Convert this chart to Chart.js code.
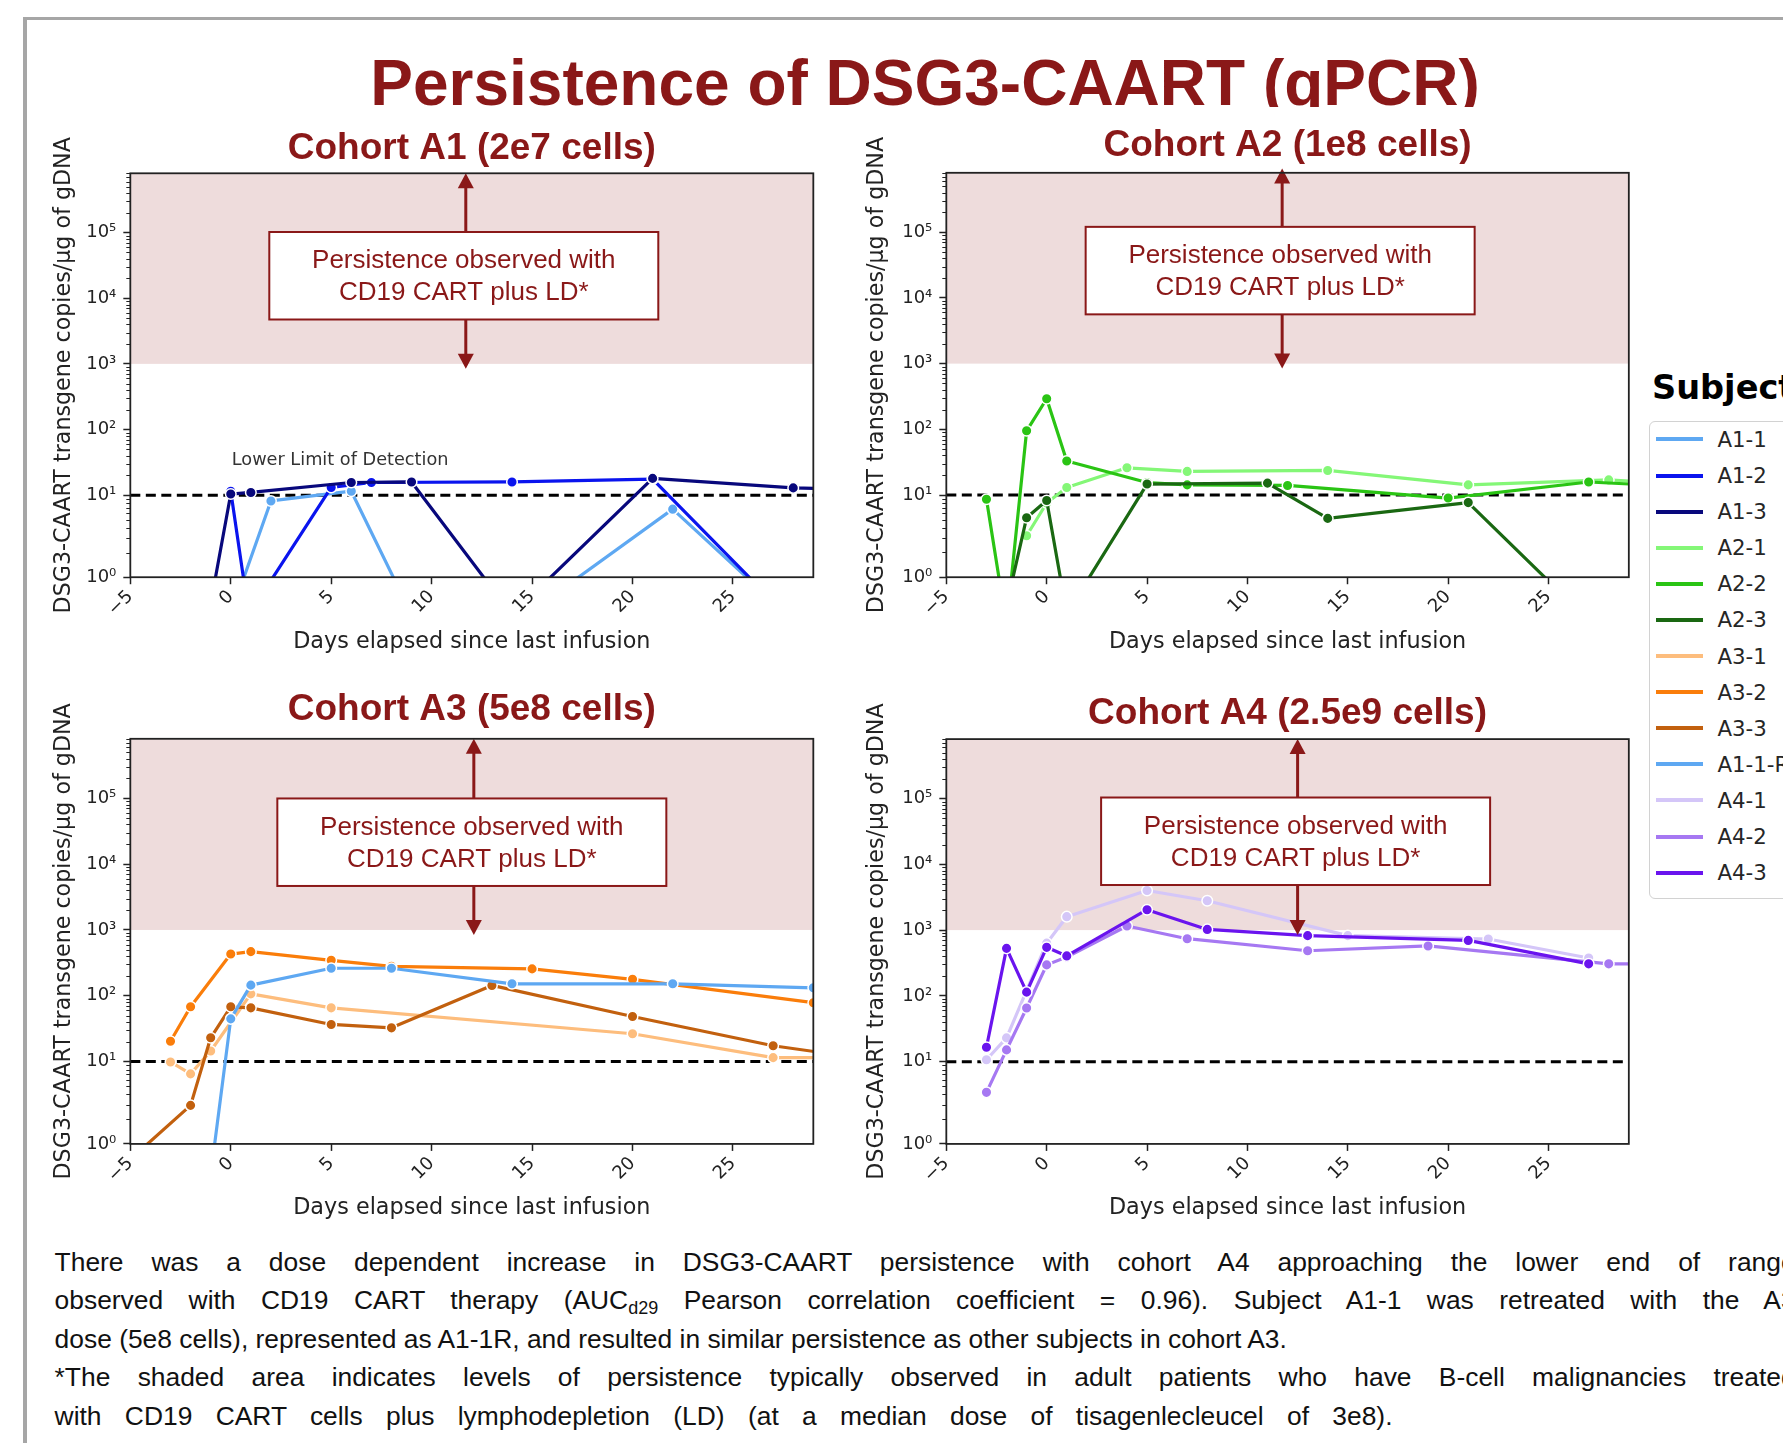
<!DOCTYPE html>
<html>
<head>
<meta charset="utf-8">
<title>Persistence of DSG3-CAART (qPCR)</title>
<script src="https://cdn.jsdelivr.net/npm/chart.js@4.4.1/dist/chart.umd.min.js"></script>
<style>
  html, body { margin: 0; padding: 0; background: #fff; }
  body { width: 1783px; height: 1443px; position: relative; overflow: hidden; font-family: "Liberation Sans", Arial, sans-serif; }
  #frame { position: absolute; left: 23px; top: 17px; width: 1900px; height: 1600px; border-left: 4px solid #a6a6a6; border-top: 3.5px solid #a6a6a6; }
  #title { position: absolute; left: 325px; width: 1200px; top: 48.1px; height: 58.9px; overflow: hidden; text-align: center;
           font-weight: bold; font-size: 64px; line-height: 71.5px; color: #8a1818; white-space: nowrap; }
  canvas { position: absolute; }
  #lg-title { position: absolute; left: 1652px; top: 367.8px; font: bold 33.6px/39.1px "DejaVu Sans", sans-serif; color: #000; white-space: nowrap; }
  #lg-box { position: absolute; left: 1649px; top: 420.7px; width: 300px; height: 476px; border: 1.5px solid #d2d2d2; border-radius: 6px; background: #fff; }
  .lg-row { position: absolute; left: 0; height: 0; }
  .lg-line { position: absolute; left: 5.5px; top: -2px; width: 47.3px; height: 4px; }
  .lg-text { position: absolute; left: 67.5px; top: -13.5px; font: 21.3px/27px "DejaVu Sans", sans-serif; color: #262626; white-space: nowrap; }
  #notes { position: absolute; left: 54.6px; top: 1243px; font-size: 26.4px; line-height: 38.4px; color: #111; white-space: nowrap; }
  #notes .just { width: 1741px; text-align: justify; text-align-last: justify; white-space: normal; }
  #notes .wide { word-spacing: 16px; }
  #notes sub { font-size: 18px; vertical-align: -5px; line-height: 0; }
</style>
</head>
<body>
<div id="frame"></div>
<div id="title">Persistence of DSG3-CAART (qPCR)</div>
<canvas id="cA1"></canvas>
<canvas id="cA2"></canvas>
<canvas id="cA3"></canvas>
<canvas id="cA4"></canvas>
<div id="lg-title">Subject</div>
<div id="lg-box"></div>
<div id="notes">
  <div class="just">There was a dose dependent increase in DSG3-CAART persistence with cohort A4 approaching the lower end of range</div>
  <div class="just">observed with CD19 CART therapy (AUC<sub>d29</sub> Pearson correlation coefficient = 0.96). Subject A1-1 was retreated with the A3</div>
  <div>dose (5e8 cells), represented as A1-1R, and resulted in similar persistence as other subjects in cohort A3.</div>
  <div class="just">*The shaded area indicates levels of persistence typically observed in adult patients who have B-cell malignancies treated</div>
  <div class="wide">with CD19 CART cells plus lymphodepletion (LD) (at a median dose of tisagenlecleucel of 3e8).</div>
</div>
<script>
// ---------- data ----------
const xTicks = [-5, 0, 5, 10, 15, 20, 25];
const xTickLabels = ['\u22125', '0', '5', '10', '15', '20', '25'];
const yTicks = [1, 10, 100, 1000, 10000, 100000];
const yTickLabels = ['10\u2070', '10\u00b9', '10\u00b2', '10\u00b3', '10\u2074', '10\u2075'];
const lodCopies = 10;        // lower limit of detection
const cd19RangeLow = 1000;   // bottom of shaded CD19 CART range

const cohortTitles = ['Cohort A1 (2e7 cells)', 'Cohort A2 (1e8 cells)', 'Cohort A3 (5e8 cells)', 'Cohort A4 (2.5e9 cells)'];
const subjects = ['A1-1', 'A1-2', 'A1-3', 'A2-1', 'A2-2', 'A2-3', 'A3-1', 'A3-2', 'A3-3', 'A1-1-R', 'A4-1', 'A4-2', 'A4-3'];
const cohortSubjects = [['A1-1', 'A1-2', 'A1-3'], ['A2-1', 'A2-2', 'A2-3'], ['A3-1', 'A3-2', 'A3-3', 'A1-1-R'], ['A4-1', 'A4-2', 'A4-3']];

// days since last infusion, copies/ug gDNA (values under 1 are below the axis)
const a1_1Days   = [0, 2, 6, 9, 15, 22, 28];
const a1_1Copies = [0.35, 8.5, 11.5, 0.35, 0.39, 6.75, 0.3];
const a1_2Days   = [0, 0.9, 5, 7, 14, 21, 28];
const a1_2Copies = [11.5, 0.35, 13.1, 15.6, 15.9, 17.5, 0.285];
const a1_3Days   = [-1.1, 0, 1, 6, 9, 14, 21, 28, 35];
const a1_3Copies = [0.35, 10.4, 11, 15.6, 15.9, 0.35, 18, 12.9, 11.5];

const a2_1Days   = [-1, 0, 1, 4, 7, 14, 21, 28, 35];
const a2_1Copies = [3.2, 8, 13, 26, 22.9, 23.7, 14.3, 17, 13];
const a2_2Days   = [-3, -2, -1, 0, 1, 5, 7, 12, 20, 27, 35];
const a2_2Copies = [8.9, 0.26, 95, 292, 33, 15.5, 14.3, 14, 9.2, 15.8, 12];
const a2_3Days   = [-2, -1, 0, 1, 5, 11, 14, 21, 27];
const a2_3Copies = [0.45, 5.3, 8.6, 0.36, 14.7, 15.2, 5.2, 8.1, 0.3];

const a3_1Days   = [-3, -2, -1, 1, 5, 20, 27, 35];
const a3_1Copies = [9.9, 7.1, 14.5, 107, 65.6, 26.5, 11.5, 11.4];
const a3_2Days   = [-3, -2, 0, 1, 5, 8, 15, 20, 29];
const a3_2Copies = [20.4, 68, 430, 468, 346, 280, 256, 178, 78.5];
const a3_3Days   = [-5, -2, -1, 0, 1, 5, 8, 13, 20, 27, 35];
const a3_3Copies = [0.65, 2.94, 23, 68, 65.6, 36.7, 32.6, 143.7, 48.5, 17.4, 8.3];
const a1_1rDays   = [-1, 0, 1, 5, 8, 14, 22, 29];
const a1_1rCopies = [0.42, 44.6, 145, 262, 262, 152, 152, 132];

const a4_1Days   = [-3, -2, 0, 1, 5, 8, 15, 22, 27];
const a4_1Copies = [10.7, 23, 633, 1600, 4000, 2790, 824, 731, 377];
const a4_2Days   = [-3, -2, -1, 0, 1, 4, 7, 13, 19, 28, 35];
const a4_2Copies = [4.24, 15.1, 65.6, 296, 390, 1156, 740, 485, 574, 307, 300];
const a4_3Days   = [-3, -2, -1, 0, 1, 5, 8, 13, 21, 27];
const a4_3Copies = [16.6, 528, 114, 547, 405, 2040, 1024, 824, 697, 307];

const seriesDays = {
  'A1-1': a1_1Days, 'A1-2': a1_2Days, 'A1-3': a1_3Days,
  'A2-1': a2_1Days, 'A2-2': a2_2Days, 'A2-3': a2_3Days,
  'A3-1': a3_1Days, 'A3-2': a3_2Days, 'A3-3': a3_3Days, 'A1-1-R': a1_1rDays,
  'A4-1': a4_1Days, 'A4-2': a4_2Days, 'A4-3': a4_3Days
};
const seriesCopies = {
  'A1-1': a1_1Copies, 'A1-2': a1_2Copies, 'A1-3': a1_3Copies,
  'A2-1': a2_1Copies, 'A2-2': a2_2Copies, 'A2-3': a2_3Copies,
  'A3-1': a3_1Copies, 'A3-2': a3_2Copies, 'A3-3': a3_3Copies, 'A1-1-R': a1_1rCopies,
  'A4-1': a4_1Copies, 'A4-2': a4_2Copies, 'A4-3': a4_3Copies
};

// ---------- styles ----------
const subjectColors = ['#5ea8f2', '#0a14ee', '#08087c', '#84f777', '#2ac414', '#1a6812',
                       '#fdbd7d', '#fa7d0a', '#c2600e', '#5ea8f2', '#d4c6f8', '#a678f2', '#6a14ee'];
const noteRed = '#8a1818';
const shadeColor = '#eedcdc';
const mplFont = '"DejaVu Sans", sans-serif';
const pptFont = '"Liberation Sans", Arial, sans-serif';

// panel layout: plot rect [left, top, right, bottom] in page px
const panels = [
  {id: 'cA1', plot: [130, 173, 813, 577], titleY: 148.9, yTitleX: 64, xTitleY: 642.4, arrowDay: 11.7, arrowTop: 8e5, boxCopies: 2.2e4, lodLabel: true},
  {id: 'cA2', plot: [946, 173, 1628.5, 577], titleY: 146.4, yTitleX: 877, xTitleY: 642.4, arrowDay: 11.73, arrowTop: 9.3e5, boxCopies: 2.6e4},
  {id: 'cA3', plot: [130, 739, 813, 1144], titleY: 710.4, yTitleX: 64, xTitleY: 1208.7, arrowDay: 12.1, arrowTop: 8e5, boxCopies: 2.15e4},
  {id: 'cA4', plot: [946, 739, 1628.5, 1144], titleY: 714.1, yTitleX: 877, xTitleY: 1208.7, arrowDay: 12.5, arrowTop: 8e5, boxCopies: 2.24e4}
];

// ---------- y scale: log axis whose 1..10 decade is drawn taller ----------
const LOW_DECADE_STRETCH = 1.25;
class SplitLogScale extends Chart.LogarithmicScale {
  static id = 'splitLog';
  static defaults = {};
  toStretched(v) {
    const l = Math.log10(v);
    return l < 1 ? l * LOW_DECADE_STRETCH : LOW_DECADE_STRETCH + l - 1;
  }
  getPixelForValue(v) {
    if (v === null || v === undefined || !(v > 0)) return NaN;
    const a = this.toStretched(this.min), b = this.toStretched(this.max);
    return this.getPixelForDecimal((this.toStretched(v) - a) / (b - a));
  }
  getValueForPixel(p) {
    const a = this.toStretched(this.min), b = this.toStretched(this.max);
    const u = a + this.getDecimalForPixel(p) * (b - a);
    return Math.pow(10, u < LOW_DECADE_STRETCH ? u / LOW_DECADE_STRETCH : u - LOW_DECADE_STRETCH + 1);
  }
}
Chart.register(SplitLogScale);

// ---------- panel decorations ----------
const panelDecor = {
  id: 'panelDecor',
  beforeDatasetsDraw(chart, args, o) {
    const {ctx, chartArea: a, scales: {x, y}} = chart;
    ctx.save();
    const yLow = y.getPixelForValue(cd19RangeLow);
    ctx.fillStyle = shadeColor;
    ctx.fillRect(a.left, a.top, a.right - a.left, yLow - a.top);
    const yl = y.getPixelForValue(lodCopies);
    ctx.strokeStyle = '#000'; ctx.lineWidth = 3; ctx.setLineDash([10, 5.5]);
    ctx.beginPath(); ctx.moveTo(a.left, yl); ctx.lineTo(a.right, yl); ctx.stroke();
    ctx.setLineDash([]);
    if (o.lodLabel) {
      ctx.fillStyle = '#333'; ctx.font = '17.7px ' + mplFont;
      ctx.textAlign = 'left'; ctx.textBaseline = 'middle';
      ctx.fillText('Lower Limit of Detection', x.getPixelForValue(0) + 1, yl - 34.5);
    }
    ctx.restore();
  },
  afterDatasetsDraw(chart, args, o) {
    const {ctx, scales: {x, y}} = chart;
    ctx.save();
    const xa = x.getPixelForValue(o.arrowDay);
    const tipTop = y.getPixelForValue(o.arrowTop);
    const tipBot = y.getPixelForValue(cd19RangeLow) + 5;
    ctx.strokeStyle = noteRed; ctx.fillStyle = noteRed; ctx.lineWidth = 3;
    ctx.beginPath(); ctx.moveTo(xa, tipTop + 12); ctx.lineTo(xa, tipBot - 12); ctx.stroke();
    const head = (tip, dir) => {
      ctx.beginPath(); ctx.moveTo(xa, tip);
      ctx.lineTo(xa - 8, tip - dir * 15); ctx.lineTo(xa + 8, tip - dir * 15);
      ctx.closePath(); ctx.fill();
    };
    head(tipTop, -1); head(tipBot, 1);
    // note box
    const cx = xa - 2, cy = y.getPixelForValue(o.boxCopies), w = 389, h = 87.5;
    ctx.fillStyle = '#fff'; ctx.fillRect(cx - w / 2, cy - h / 2, w, h);
    ctx.lineWidth = 2; ctx.strokeRect(cx - w / 2, cy - h / 2, w, h);
    ctx.fillStyle = noteRed; ctx.font = '26px ' + pptFont;
    ctx.textAlign = 'center'; ctx.textBaseline = 'middle';
    ctx.fillText('Persistence observed with', cx, cy - 14.5);
    ctx.fillText('CD19 CART plus LD*', cx, cy + 17.5);
    ctx.restore();
  },
  afterDraw(chart) {
    const {ctx, chartArea: a, scales: {y}} = chart;
    ctx.save();
    ctx.strokeStyle = '#222';
    // minor log ticks on left spine
    ctx.lineWidth = 1;
    ctx.beginPath();
    for (let k = 0; k <= 5; k++) {
      for (let m = 2; m <= 9; m++) {
        const v = m * Math.pow(10, k);
        if (v > y.max) continue;
        const py = Math.round(y.getPixelForValue(v)) + 0.5;
        ctx.moveTo(a.left, py); ctx.lineTo(a.left - 4, py);
      }
    }
    ctx.stroke();
    ctx.lineWidth = 1.8;
    ctx.strokeRect(a.left, a.top, a.right - a.left, a.bottom - a.top);
    ctx.restore();
  }
};

// ---------- build charts ----------
Chart.defaults.font.family = mplFont;
Chart.defaults.color = '#222';

panels.forEach((p, pi) => {
  const [pl, pt, pr, pb] = p.plot;
  const titleLH = 37 * 1.2, yTitleLH = 22.2 * 1.2, xTitleLH = 22.3 * 1.2;
  const left = p.yTitleX - yTitleLH / 2 - 2;
  const top = p.titleY - 6 - titleLH / 2;
  const bottom = p.xTitleY + xTitleLH / 2 + 4;
  const right = pr + 12;
  const yAxisW = pl - left, xAxisH = bottom - pb;
  const canvas = document.getElementById(p.id);
  canvas.width = Math.round(right - left); canvas.height = Math.round(bottom - top);
  canvas.style.left = left + 'px'; canvas.style.top = top + 'px';

  const names = cohortSubjects[pi];
  // first dataset is drawn on top, so list the cohort in reverse
  const datasets = names.slice().reverse().map(name => {
    const color = subjectColors[subjects.indexOf(name)];
    return {
      label: name,
      data: seriesDays[name].map((d, i) => ({x: d, y: seriesCopies[name][i]})),
      borderColor: color, backgroundColor: color,
      pointBackgroundColor: color, pointBorderColor: '#fff',
      pointBorderWidth: 1.5, pointRadius: 5.3, borderWidth: 3.2,
      tension: 0, fill: false, borderJoinStyle: 'round'
    };
  });

  new Chart(canvas, {
    type: 'line',
    data: {datasets},
    plugins: [panelDecor],
    options: {
      responsive: false, animation: false, devicePixelRatio: 1, events: [],
      layout: {padding: {left: 0, right: canvas.width - (pr - left), top: 0, bottom: 0}},
      plugins: {
        legend: {display: false}, tooltip: {enabled: false},
        title: {
          display: true, text: cohortTitles[pi], color: noteRed, fullSize: false,
          font: {family: pptFont, size: 37, weight: 'bold', lineHeight: 1.2},
          padding: {top: 6, bottom: pt - top - 6 - titleLH}
        },
        panelDecor: {arrowDay: p.arrowDay, arrowTop: p.arrowTop, boxCopies: p.boxCopies, lodLabel: !!p.lodLabel}
      },
      scales: {
        x: {
          type: 'linear', min: -5, max: 29,
          afterBuildTicks: s => { s.ticks = xTicks.map(v => ({value: v})); },
          afterFit: s => { s.height = xAxisH; },
          ticks: {callback: (v, i) => xTickLabels[i], autoSkip: false, minRotation: 45, maxRotation: 45,
                  font: {size: 18}, color: '#222', padding: 2},
          grid: {drawOnChartArea: false, drawTicks: true, tickLength: 7, tickColor: '#222', tickWidth: 1.5},
          border: {display: false},
          title: {display: true, text: 'Days elapsed since last infusion', color: '#222',
                  font: {size: 22.3, lineHeight: 1.2}, padding: {top: 0, bottom: 4}}
        },
        y: {
          type: 'splitLog', min: 1, max: 8e5,
          afterBuildTicks: s => { s.ticks = yTicks.map(v => ({value: v})); },
          afterFit: s => { s.width = yAxisW; },
          ticks: {callback: (v, i) => yTickLabels[i], font: {size: 18}, color: '#222', padding: 7},
          grid: {drawOnChartArea: false, drawTicks: true, tickLength: 7, tickColor: '#222', tickWidth: 1.5},
          border: {display: false},
          title: {display: true, text: 'DSG3-CAART transgene copies/\u00b5g of gDNA', color: '#222',
                  font: {size: 22.2, lineHeight: 1.2}, padding: {top: 2, bottom: 0}}
        }
      }
    }
  });
});

// ---------- legend ----------
const box = document.getElementById('lg-box');
subjects.forEach((name, i) => {
  const row = document.createElement('div');
  row.className = 'lg-row';
  row.style.top = (17.8 + i * 36.1) + 'px';
  row.innerHTML = '<div class="lg-line" style="background:' + subjectColors[i] + '"></div><div class="lg-text">' + name + '</div>';
  box.appendChild(row);
});
</script>
</body>
</html>
